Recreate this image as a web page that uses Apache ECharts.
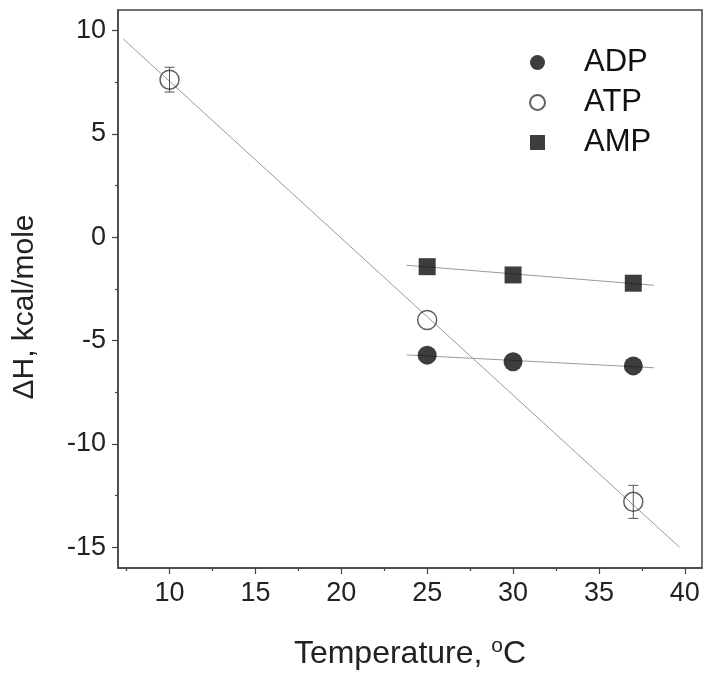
<!DOCTYPE html>
<html><head><meta charset="utf-8">
<script src="https://cdn.jsdelivr.net/npm/echarts@6/dist/echarts.min.js"></script>
<style>html,body{margin:0;padding:0;background:#fff}#c{width:715px;height:683px}</style>
</head><body><div id="c"></div>
<script>
// Data
const adpT = [25, 30, 37];
const adpH = [-5.7, -6.02, -6.22];
const atpT = [10, 25, 37];
const atpH = [7.63, -4.0, -12.8];
const atpErr = [0.6, 0, 0.8];
const ampT = [25, 30, 37];
const ampH = [-1.42, -1.82, -2.22];
// Fitted lines (endpoints)
const atpFitT = [7.3, 39.7];
const atpFitH = [9.6, -15.0];
const ampFitT = [23.8, 38.2];
const ampFitH = [-1.35, -2.32];
const adpFitT = [23.8, 38.2];
const adpFitH = [-5.69, -6.31];
// Tick labels
const xTicks = [10, 15, 20, 25, 30, 35, 40];
const xMinor = [7.5, 12.5, 17.5, 22.5, 27.5, 32.5, 37.5];
const yTicks = [-15, -10, -5, 0, 5, 10];
const yMinor = [-12.5, -7.5, -2.5, 2.5, 7.5];

const zip = (a, b) => a.map((v, i) => [v, b[i]]);
const font = '"Liberation Sans", Arial, sans-serif';
const axisColor = '#444';
const X_MIN = 7, X_MAX = 41, Y_MIN = -16, Y_MAX = 11;

const chart = echarts.init(document.getElementById('c'), null, {renderer: 'canvas'});
const errData = atpT.map((t, i) => [t, atpH[i] - atpErr[i], atpH[i] + atpErr[i]]).filter((d, i) => atpErr[i] > 0);

const minorX = {
  type: 'value', min: X_MIN, max: X_MAX, position: 'bottom',
  axisLine: {show: false, onZero: false},
  axisTick: {show: true, inside: false, length: 3, lineStyle: {color: axisColor, width: 1.2}, customValues: xMinor},
  axisLabel: {show: false}, splitLine: {show: false}
};
const minorY = {
  type: 'value', min: Y_MIN, max: Y_MAX, position: 'left',
  axisLine: {show: false, onZero: false},
  axisTick: {show: true, inside: false, length: 3, lineStyle: {color: axisColor, width: 1.2}, customValues: yMinor},
  axisLabel: {show: false}, splitLine: {show: false}
};

chart.setOption({
  animation: false,
  backgroundColor: '#fff',
  grid: {left: 118, top: 10, right: 13, bottom: 115, show: true, borderColor: axisColor, borderWidth: 1.5, backgroundColor: 'transparent'},
  legend: {
    orient: 'vertical', left: 524, top: 42, align: 'left',
    itemWidth: 83, itemHeight: 15, itemGap: 9,
    textStyle: {fontFamily: font, fontSize: 31, color: '#111', lineHeight: 30},
    data: [
      {name: 'ADP'},
      {name: 'ATP'},
      {name: 'AMP', icon: 'path://M0,0H10V10H0Z'}
    ]
  },
  xAxis: [{
    type: 'value', min: X_MIN, max: X_MAX, position: 'bottom',
    axisLine: {show: true, onZero: false, lineStyle: {color: axisColor, width: 1.5}},
    axisTick: {show: true, inside: false, length: 6, lineStyle: {color: axisColor, width: 1.2}, customValues: xTicks},
    splitLine: {show: false},
    axisLabel: {fontFamily: font, fontSize: 27, color: '#222', margin: 12, customValues: xTicks},
    name: 'Temperature, {sup|o}C',
    nameLocation: 'middle', nameGap: 68,
    nameTextStyle: {fontFamily: font, fontSize: 32, color: '#222',
      rich: {sup: {fontFamily: font, fontSize: 21, color: '#222', verticalAlign: 'top', padding: [0, 0, 15, 0]}}}
  }, minorX],
  yAxis: [{
    type: 'value', min: Y_MIN, max: Y_MAX, position: 'left',
    axisLine: {show: true, onZero: false, lineStyle: {color: axisColor, width: 1.5}},
    axisTick: {show: true, inside: false, length: 6, lineStyle: {color: axisColor, width: 1.2}, customValues: yTicks},
    splitLine: {show: false},
    axisLabel: {fontFamily: font, fontSize: 27, color: '#222', margin: 12, customValues: yTicks},
    name: 'ΔH, kcal/mole',
    nameLocation: 'middle', nameGap: 78,
    nameTextStyle: {fontFamily: font, fontSize: 30, color: '#222', padding: [0, 36, 0, 0]}
  }, minorY],
  series: [
    {type: 'line', data: zip(atpFitT, atpFitH), symbol: 'none', silent: true, z: 1,
     lineStyle: {color: '#9a9a9a', width: 1}},
    {type: 'line', data: zip(ampFitT, ampFitH), symbol: 'none', silent: true, z: 1,
     lineStyle: {color: '#9a9a9a', width: 1}},
    {type: 'line', data: zip(adpFitT, adpFitH), symbol: 'none', silent: true, z: 1,
     lineStyle: {color: '#9a9a9a', width: 1}},
    {type: 'custom', z: 2, silent: true, data: errData,
     renderItem: function (params, api) {
       const lo = api.coord([api.value(0), api.value(1)]);
       const hi = api.coord([api.value(0), api.value(2)]);
       const w = 5;
       const st = {stroke: '#555', lineWidth: 1, fill: null};
       return {type: 'group', children: [
         {type: 'line', shape: {x1: lo[0], y1: lo[1], x2: hi[0], y2: hi[1]}, style: st},
         {type: 'line', shape: {x1: lo[0] - w, y1: lo[1], x2: lo[0] + w, y2: lo[1]}, style: st},
         {type: 'line', shape: {x1: hi[0] - w, y1: hi[1], x2: hi[0] + w, y2: hi[1]}, style: st}
       ]};
     }},
    {name: 'ADP', type: 'scatter', data: zip(adpT, adpH), symbol: 'circle', symbolSize: 19, z: 3,
     itemStyle: {color: '#0d0d0d'}},
    {name: 'ATP', type: 'scatter', data: zip(atpT, atpH), symbol: 'circle', symbolSize: 19, z: 3,
     itemStyle: {color: 'rgba(255,255,255,0)', borderColor: '#3a3a3a', borderWidth: 1.5}},
    {name: 'AMP', type: 'scatter', data: zip(ampT, ampH), symbol: 'rect', symbolSize: 17, z: 3,
     itemStyle: {color: '#0d0d0d'}}
  ]
});
</script>
</body></html>
